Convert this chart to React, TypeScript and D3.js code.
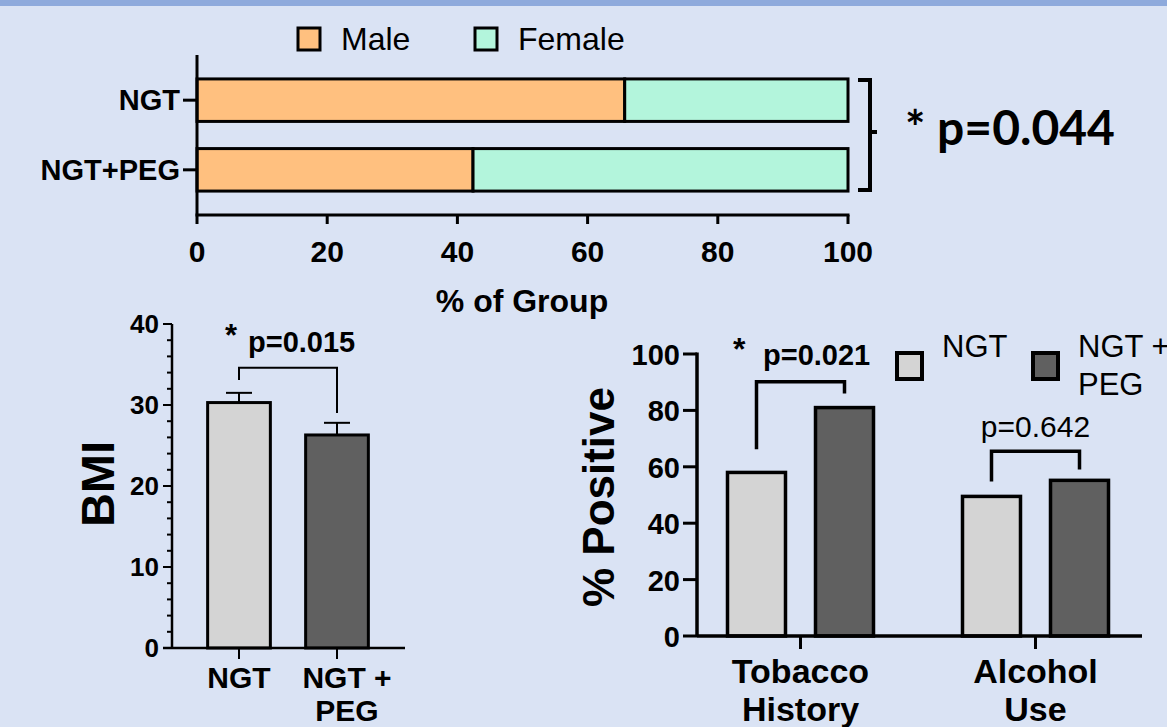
import React from 'react';
import { scaleLinear, scaleBand, range } from 'd3';

// top chart: sex split (% of group)
const sexGroups = ['NGT', 'NGT+PEG'];
const malePct = [65.7, 42.4];
const femalePct = [34.3, 57.6];
const pctTicks = [0, 20, 40, 60, 80, 100];

// BMI chart
const bmiGroups = ['NGT', 'NGT +|PEG'];
const bmiMean = [30.3, 26.3];
const bmiErr = [1.2, 1.5];
const bmiTicks = [0, 10, 20, 30, 40];

// % positive chart
const habitCats = ['Tobacco|History', 'Alcohol|Use'];
const seriesNames = ['NGT', 'NGT +|PEG'];
const ngtPositive = [58, 49.5];
const pegPositive = [81, 55.2];
const posTicks = [0, 20, 40, 60, 80, 100];

const BG = '#dae3f4';
const BAND = '#8eaadc';
const MALE = '#ffc07f';
const FEMALE = '#b3f5dc';
const LIGHT = '#d4d4d4';
const DARK = '#606060';
const FONT = '"Liberation Sans", Arial, sans-serif';

const Lines = ({ text, x, y, dy, ...rest }: any) => (
  <text x={x} y={y} {...rest}>
    {text.split('|').map((t: string, i: number) => (
      <tspan key={i} x={x} dy={i === 0 ? 0 : dy}>{t}</tspan>
    ))}
  </text>
);

const SexChart = () => {
  const x = scaleLinear().domain([0, 100]).range([197, 848]);
  const y = scaleBand().domain(sexGroups).range([65, 205]).paddingInner(0.39).paddingOuter(0.2);
  const axisY = 215;
  return (
    <g fontFamily={FONT}>
      {/* legend */}
      <rect x={298} y={28} width={22} height={22} fill={MALE} stroke="#000" strokeWidth={3} />
      <text x={341} y={50} fontSize={32}>Male</text>
      <rect x={475} y={28} width={22} height={22} fill={FEMALE} stroke="#000" strokeWidth={3} />
      <text x={518} y={50} fontSize={32}>Female</text>

      {sexGroups.map((g, i) => (
        <g key={g}>
          <rect x={x(0)} y={y(g)} width={x(malePct[i]) - x(0)} height={y.bandwidth()}
            fill={MALE} stroke="#000" strokeWidth={3} />
          <rect x={x(malePct[i])} y={y(g)} width={x(malePct[i] + femalePct[i]) - x(malePct[i])}
            height={y.bandwidth()} fill={FEMALE} stroke="#000" strokeWidth={3} />
          <line x1={183} x2={x(0)} y1={y(g)! + y.bandwidth() / 2} y2={y(g)! + y.bandwidth() / 2}
            stroke="#000" strokeWidth={3} />
          <text x={180} y={y(g)! + y.bandwidth() / 2 + 10} textAnchor="end" fontSize={29} fontWeight="bold">{g}</text>
        </g>
      ))}

      <line x1={x(0)} x2={x(0)} y1={55} y2={axisY} stroke="#000" strokeWidth={3} />
      <line x1={x(0) - 1.5} x2={x(100) + 1.5} y1={axisY} y2={axisY} stroke="#000" strokeWidth={3} />
      {pctTicks.map(t => (
        <g key={t}>
          <line x1={x(t)} x2={x(t)} y1={axisY} y2={axisY + 9} stroke="#000" strokeWidth={3} />
          <text x={x(t)} y={262} textAnchor="middle" fontSize={30} fontWeight="bold">{t}</text>
        </g>
      ))}
      <text x={522} y={312} textAnchor="middle" fontSize={32} fontWeight="bold">% of Group</text>

      {/* significance bracket */}
      <path d={`M858,${y('NGT')! + 1}H870V${y('NGT+PEG')! + y.bandwidth() - 1}H858M870,132H877`}
        fill="none" stroke="#000" strokeWidth={4} />
      <text x={905} y={145} fontSize={48} fontWeight="bold" fontFamily="Lato, 'Open Sans', sans-serif">* p=0.044</text>
    </g>
  );
};

const BmiChart = () => {
  const y = scaleLinear().domain([0, 40]).range([648, 324]);
  const x = scaleBand().domain(bmiGroups).range([190, 386]).paddingInner(0.36).paddingOuter(0.18);
  const axisX = 172;
  const cx = (g: string) => x(g)! + x.bandwidth() / 2;
  const minor = range(0, 41, 2).filter(v => v % 10 !== 0);
  return (
    <g fontFamily={FONT}>
      {bmiGroups.map((g, i) => (
        <g key={g}>
          <line x1={cx(g)} x2={cx(g)} y1={y(bmiMean[i])} y2={y(bmiMean[i] + bmiErr[i])} stroke="#000" strokeWidth={2} />
          <line x1={cx(g) - 13} x2={cx(g) + 13} y1={y(bmiMean[i] + bmiErr[i])} y2={y(bmiMean[i] + bmiErr[i])} stroke="#000" strokeWidth={2} />
          <rect x={x(g)} y={y(bmiMean[i])} width={x.bandwidth()} height={y(0) - y(bmiMean[i])}
            fill={i === 0 ? LIGHT : DARK} stroke="#000" strokeWidth={3} />
          <line x1={cx(g)} x2={cx(g)} y1={y(0)} y2={y(0) + 11} stroke="#000" strokeWidth={2} />
          <Lines text={g} x={cx(g) + (i === 1 ? 10 : 0)} y={688} dy={33} textAnchor="middle" fontSize={30} fontWeight="bold" />
        </g>
      ))}
      <line x1={axisX} x2={axisX} y1={y(40)} y2={y(0)} stroke="#000" strokeWidth={2.5} />
      <line x1={163} x2={405} y1={y(0)} y2={y(0)} stroke="#000" strokeWidth={2.5} />
      {bmiTicks.map(t => (
        <g key={t}>
          <line x1={163} x2={axisX} y1={y(t)} y2={y(t)} stroke="#000" strokeWidth={2} />
          <text x={159} y={y(t) + 9} textAnchor="end" fontSize={26} fontWeight="bold">{t}</text>
        </g>
      ))}
      {minor.map(t => (
        <line key={t} x1={167} x2={axisX} y1={y(t)} y2={y(t)} stroke="#000" strokeWidth={2} />
      ))}
      <text transform={`translate(114,${y(20) - 2}) rotate(-90)`} textAnchor="middle" fontSize={47} fontWeight="bold">BMI</text>

      <path d={`M${cx(bmiGroups[0])},${y(33.1)}V${y(34.6)}H${cx(bmiGroups[1])}V${y(29.0)}`}
        fill="none" stroke="#000" strokeWidth={2} />
      <text x={225} y={346} fontSize={31} fontWeight="bold">*</text>
      <text x={248} y={352} fontSize={29} fontWeight="bold">p=0.015</text>
    </g>
  );
};

const PositiveChart = () => {
  const y = scaleLinear().domain([0, 100]).range([636, 354]);
  const x0 = scaleBand().domain(habitCats).range([683, 1153]);
  const x1 = scaleBand().domain(seriesNames).range([44.5, 190.5]).paddingInner(0.341);
  const axisX = 697;
  const values = [ngtPositive, pegPositive];
  const barCx = (c: string, s: string) => x0(c)! + x1(s)! + x1.bandwidth() / 2;
  const brackets = [
    { c: habitCats[0], top: 90.2, left: 66.2, right: 86 },
    { c: habitCats[1], top: 65.5, left: 54.8, right: 59 },
  ];
  return (
    <g fontFamily={FONT}>
      {habitCats.map((c, ci) => (
        <g key={c}>
          {seriesNames.map((s, si) => (
            <rect key={s} x={x0(c)! + x1(s)!} y={y(values[si][ci])} width={x1.bandwidth()}
              height={y(0) - y(values[si][ci])} fill={si === 0 ? LIGHT : DARK} stroke="#000" strokeWidth={3.5} />
          ))}
          <line x1={x0(c)! + x0.bandwidth() / 2} x2={x0(c)! + x0.bandwidth() / 2} y1={y(0)} y2={y(0) + 13}
            stroke="#000" strokeWidth={3} />
          <Lines text={c} x={x0(c)! + x0.bandwidth() / 2} y={683} dy={38} textAnchor="middle" fontSize={34} fontWeight="bold" />
        </g>
      ))}
      <line x1={axisX} x2={axisX} y1={y(100) - 1.5} y2={y(0)} stroke="#000" strokeWidth={3.5} />
      <line x1={axisX} x2={1142} y1={y(0)} y2={y(0)} stroke="#000" strokeWidth={3.5} />
      {posTicks.map(t => (
        <g key={t}>
          <line x1={683} x2={axisX} y1={y(t)} y2={y(t)} stroke="#000" strokeWidth={3} />
          <text x={680} y={y(t) + 11} textAnchor="end" fontSize={29} fontWeight="bold">{t}</text>
        </g>
      ))}
      <text transform={`translate(614,${y(50) + 2}) rotate(-90)`} textAnchor="middle" fontSize={44} fontWeight="bold">% Positive</text>

      {brackets.map(b => (
        <path key={b.c}
          d={`M${barCx(b.c, seriesNames[0])},${y(b.left)}V${y(b.top)}H${barCx(b.c, seriesNames[1])}V${y(b.right)}`}
          fill="none" stroke="#000" strokeWidth={3.5} />
      ))}
      <text x={733} y={360} fontSize={32} fontWeight="bold">*</text>
      <text x={763} y={365} fontSize={29} fontWeight="bold">p=0.021</text>
      <text x={barCx(habitCats[1], seriesNames[0]) + 44} y={437} textAnchor="middle" fontSize={30}>p=0.642</text>

      {/* legend */}
      {seriesNames.map((s, i) => {
        const lx = i === 0 ? 897 : 1033;
        return (
          <g key={s}>
            <rect x={lx} y={353} width={25} height={26} fill={i === 0 ? LIGHT : DARK} stroke="#000" strokeWidth={4} />
            <Lines text={s} x={lx + 45} y={357} dy={38} fontSize={31} />
          </g>
        );
      })}
    </g>
  );
};

export default function App() {
  return (
    <svg width={1167} height={727} style={{ position: 'fixed', left: 0, top: 0 }}>
      <rect width={1167} height={727} fill={BG} />
      <rect width={1167} height={6} fill={BAND} />
      <SexChart />
      <BmiChart />
      <PositiveChart />
    </svg>
  );
}
